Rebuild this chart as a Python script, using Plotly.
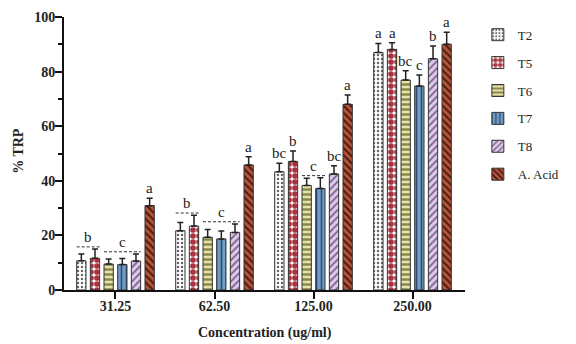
import plotly.graph_objects as go

categories = ["31.25", "62.50", "125.00", "250.00"]
series_names = ["T2", "T5", "T6", "T7", "T8", "A. Acid"]

# mean values per series (one value per concentration)
T2 = [10.7, 21.7, 43.3, 87.0]
T5 = [11.6, 23.4, 47.1, 88.1]
T6 = [9.5, 19.3, 38.3, 76.9]
T7 = [9.3, 18.7, 37.2, 74.7]
T8 = [10.6, 21.1, 42.5, 84.7]
AA = [30.9, 45.8, 68.0, 90.0]

# error (upper) values
T2_err = [2.5, 3.0, 3.1, 3.3]
T5_err = [3.4, 4.0, 3.8, 2.5]
T6_err = [1.9, 2.9, 2.6, 3.4]
T7_err = [2.2, 2.9, 3.9, 4.1]
T8_err = [2.6, 3.1, 3.0, 4.7]
AA_err = [2.7, 3.0, 3.4, 4.4]

y_ticks = [0, 20, 40, 60, 80, 100]
x_title = "Concentration (ug/ml)"
y_title = "% TRP"

# significance letters: (group index, label, first bar index, last bar index)
letters = [
    (0, "b", 0, 1), (0, "c", 2, 4), (0, "a", 5, 5),
    (1, "b", 0, 1), (1, "c", 2, 4), (1, "a", 5, 5),
    (2, "bc", 0, 0), (2, "b", 1, 1), (2, "c", 2, 3), (2, "bc", 4, 4), (2, "a", 5, 5),
    (3, "a", 0, 0), (3, "a", 1, 1), (3, "bc", 2, 2), (3, "c", 3, 3), (3, "b", 4, 4), (3, "a", 5, 5),
]

means = [T2, T5, T6, T7, T8, AA]
errs = [T2_err, T5_err, T6_err, T7_err, T8_err, AA_err]

styles = [
    dict(bg="#ffffff", fg="#666666", shape=".", size=4, sol=0.3),
    dict(bg="#ffffff", fg="#a8323e", shape=".", size=6, sol=0.7),
    dict(bg="#e6e2ad", fg="#8c894a", shape="-", size=5, sol=0.5),
    dict(bg="#6f9cc6", fg="#2c4a6a", shape="|", size=5, sol=0.3),
    dict(bg="#dccde6", fg="#7e5f96", shape="/", size=5, sol=0.35),
    dict(bg="#b4543a", fg="#4a1a10", shape="\\", size=5, sol=0.4),
]

slot = 0.138
bw = 0.094
FONT = "Liberation Serif"

fig = go.Figure()
xs = list(range(len(categories)))
for i, name in enumerate(series_names):
    st = styles[i]
    off = (i - 2.5) * slot - bw / 2
    fig.add_trace(go.Bar(
        x=xs, y=means[i], name=name, width=bw, offset=off,
        legendgroup=name,
        marker=dict(color=st["bg"], line=dict(color="#333333", width=1),
                    pattern=dict(shape=st["shape"], fgcolor=st["fg"], bgcolor=st["bg"],
                                 size=st["size"], solidity=st["sol"], fillmode="replace")),
        error_y=dict(type="data", array=errs[i], arrayminus=[0] * len(xs), symmetric=False,
                     color="#222222", thickness=1.5, width=3),
        cliponaxis=False,
    ))

shapes = []
annotations = []
for g, lab, a, b in letters:
    tops = [means[k][g] + errs[k][g] for k in range(a, b + 1)]
    ytop = max(tops)
    xa = g + (a - 2.5) * slot
    xb = g + (b - 2.5) * slot
    xc = (xa + xb) / 2
    if b > a:
        yl = ytop + 0.8
        shapes.append(dict(type="line", xref="x", yref="y", x0=xa - bw / 2, x1=xb + bw / 2,
                           y0=yl, y1=yl, line=dict(color="#333333", width=1, dash="3px,2px")))
        ybase = yl
    else:
        ybase = ytop
    annotations.append(dict(x=xc, y=ybase, xref="x", yref="y", text=lab, showarrow=False,
                            yanchor="bottom", yshift=0,
                            font=dict(family=FONT, size=15, color="#222222")))

# axis titles as paper annotations
annotations.append(dict(x=0.5, y=-0.158, xref="paper", yref="paper", text="<b>%s</b>" % x_title,
                        showarrow=False, xanchor="center", yanchor="middle",
                        font=dict(family=FONT, size=14, color="#222222")))
annotations.append(dict(x=-0.112, y=0.51, xref="paper", yref="paper", text="<b>%s</b>" % y_title,
                        showarrow=False, xanchor="center", yanchor="middle", textangle=-90,
                        font=dict(family=FONT, size=14, color="#222222")))

fig.update_layout(
    width=576, height=344,
    margin=dict(l=64, r=101, t=17, b=54),
    plot_bgcolor="white", paper_bgcolor="white",
    barmode="overlay",
    font=dict(family=FONT, color="#222222"),
    shapes=shapes, annotations=annotations,
    legend=dict(x=1.032, xanchor="left", y=0.99, yanchor="top",
                font=dict(family=FONT, size=13, color="#222222"),
                tracegroupgap=8, itemwidth=30, bgcolor="rgba(0,0,0,0)"),
    xaxis=dict(range=[-0.52, 3.53], tickvals=xs, ticktext=["<b>%s</b>" % c for c in categories],
               showline=True, linecolor="#111111", linewidth=2, showgrid=False, zeroline=False,
               ticks="outside", ticklen=7, tickwidth=2, tickcolor="#111111", automargin=False,
               ticklabelstandoff=-5,
               tickfont=dict(family=FONT, size=14, color="#222222")),
    yaxis=dict(range=[0, 100], tickvals=y_ticks, ticktext=["<b>%d</b>" % v for v in y_ticks],
               showline=True, linecolor="#111111", linewidth=2, showgrid=False, zeroline=False,
               ticks="outside", ticklen=7, tickwidth=2, tickcolor="#111111", automargin=False,
               ticklabelstandoff=-3,
               minor=dict(dtick=10, ticks="outside", ticklen=4, tickwidth=2, tickcolor="#111111"),
               tickfont=dict(family=FONT, size=14, color="#222222")),
)

fig.write_html("out.html")
